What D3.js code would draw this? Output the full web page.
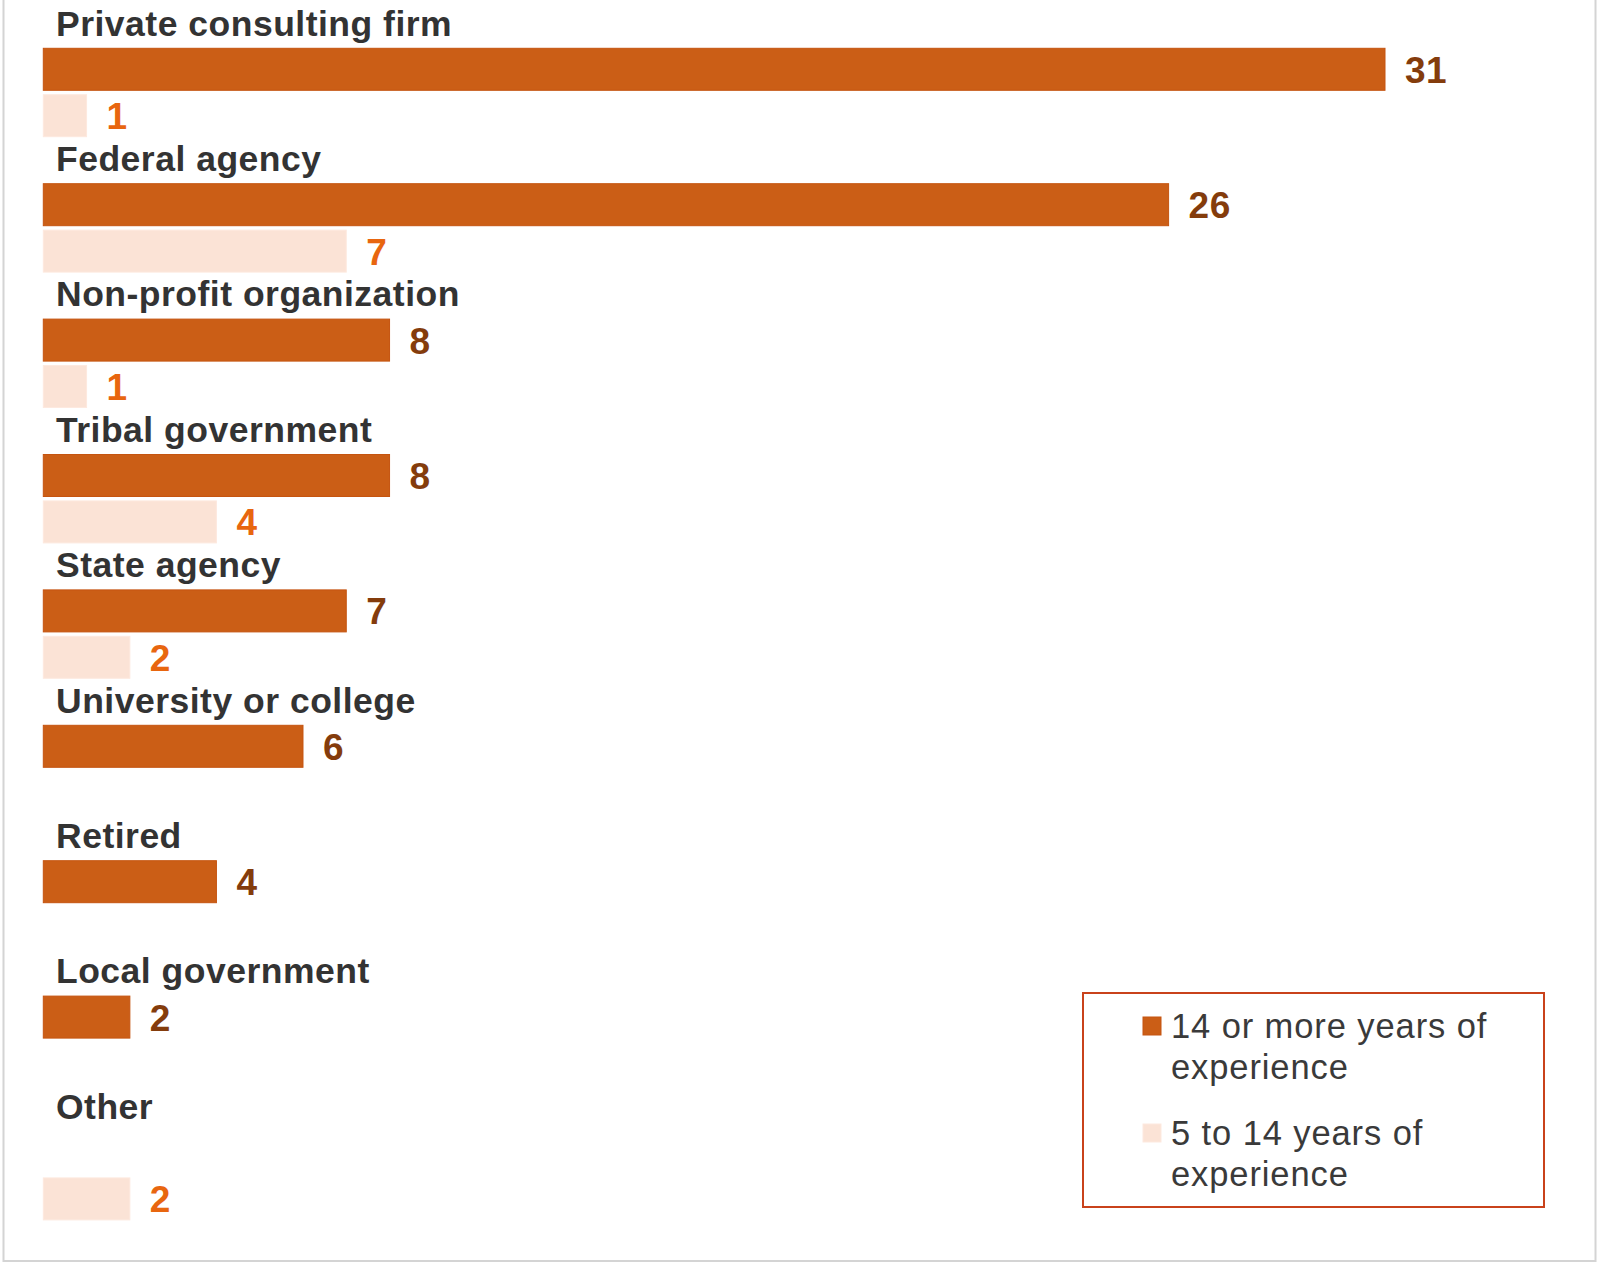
<!DOCTYPE html>
<html>
<head>
<meta charset="utf-8">
<script src="https://cdn.jsdelivr.net/npm/d3@7"></script>
<style>
  html, body { margin: 0; padding: 0; background: #fff; }
  svg { display: block; font-family: "Liberation Sans", Arial, sans-serif; }
</style>
</head>
<body>
<div id="chart"></div>
<script>
// values
const categories = [
  "Private consulting firm",
  "Federal agency",
  "Non-profit organization",
  "Tribal government",
  "State agency",
  "University or college",
  "Retired",
  "Local government",
  "Other"
];
const seriesNames = ["14 or more years of experience", "5 to 14 years of experience"];
const senior = [31, 26, 8, 8, 7, 6, 4, 2, 0];
const mid = [1, 7, 1, 4, 2, 0, 0, 0, 2];

const width = 1600, height = 1265;
const colors = {
  barFill: ["#cb5e16", "#fbe3d6"],
  barStroke: ["#c55410", "#fde9df"],
  value: ["#843c0c", "#e8660f"]
};

const svg = d3.select("#chart").append("svg")
  .attr("width", width)
  .attr("height", height);

// outer frame
svg.append("rect")
  .attr("x", 3.5).attr("y", -5)
  .attr("width", 1592).attr("height", 1266)
  .attr("fill", "none")
  .attr("stroke", "#d4d4d4")
  .attr("stroke-width", 2);

const rows = categories.map((c, i) => ({ category: c, values: [senior[i], mid[i]] }));

// one band per category, label sits at the top of it
const y = d3.scaleBand()
  .domain(categories)
  .range([0, 135.4 * categories.length]);

const ySub = d3.scaleBand()
  .domain(d3.range(seriesNames.length))
  .range([48.3, 136.7])
  .paddingInner(0.095);

const x = d3.scaleLinear()
  .domain([0, d3.max(senior.concat(mid))])
  .range([43.3, 1385]);

const group = svg.selectAll("g.row")
  .data(rows)
  .join("g")
  .attr("class", "row")
  .attr("transform", d => `translate(0,${y(d.category)})`);

group.append("text")
  .attr("x", 56)
  .attr("y", 35.5)
  .attr("fill", "#333333")
  .attr("font-size", 35.5)
  .attr("font-weight", "bold")
  .attr("letter-spacing", 0.5)
  .text(d => d.category);

const cells = group.selectAll("g.cell")
  .data(d => d.values.map((v, k) => ({ v, k })).filter(e => e.v > 0))
  .join("g")
  .attr("class", "cell");

cells.append("rect")
  .attr("x", x(0))
  .attr("y", e => ySub(e.k))
  .attr("width", e => x(e.v) - x(0))
  .attr("height", ySub.bandwidth())
  .attr("fill", e => colors.barFill[e.k])
  .attr("stroke", e => colors.barStroke[e.k])
  .attr("stroke-width", 1);

cells.append("text")
  .attr("x", e => x(e.v) + 20)
  .attr("y", e => ySub(e.k) + ySub.bandwidth() / 2 + 13.5)
  .attr("fill", e => colors.value[e.k])
  .attr("font-size", 37)
  .attr("font-weight", "bold")
  .attr("letter-spacing", 0.5)
  .text(e => e.v);

// legend
const legend = svg.append("g").attr("transform", "translate(1083,993)");
legend.append("rect")
  .attr("width", 461)
  .attr("height", 214)
  .attr("fill", "#fff")
  .attr("stroke", "#c9421b")
  .attr("stroke-width", 2);

const legendLines = [["14 or more years of", "experience"], ["5 to 14 years of", "experience"]];
const item = legend.selectAll("g.item")
  .data(seriesNames)
  .join("g")
  .attr("class", "item")
  .attr("transform", (d, i) => `translate(0,${i * 107})`);

item.append("rect")
  .attr("x", 60).attr("y", 24)
  .attr("width", 18).attr("height", 18)
  .attr("fill", (d, i) => colors.barFill[i])
  .attr("stroke", (d, i) => colors.barStroke[i]);

item.append("text")
  .attr("fill", "#3a3a3a")
  .attr("font-size", 34.5)
  .attr("letter-spacing", 0.9)
  .selectAll("tspan")
  .data((d, i) => legendLines[i])
  .join("tspan")
  .attr("x", 88)
  .attr("y", (t, j) => 44.5 + j * 41.7)
  .text(t => t);
</script>
</body>
</html>
